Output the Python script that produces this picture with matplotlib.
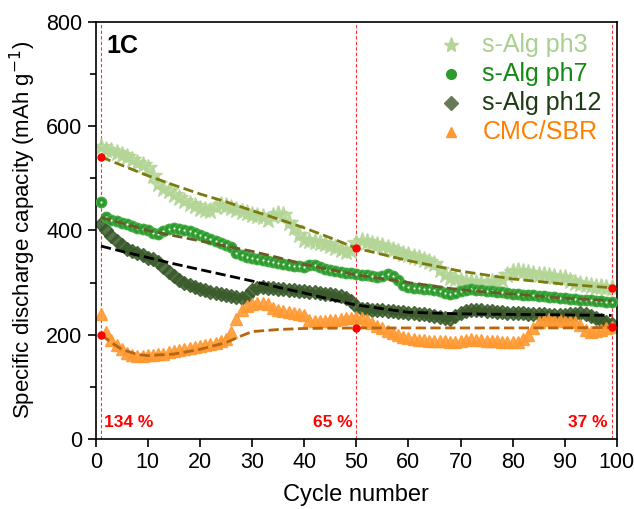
import numpy as np
import matplotlib.pyplot as plt

plt.rcParams['font.family'] = ['Liberation Sans', 'DejaVu Sans']

cycles = np.arange(1, 100)

ph3 = [560, 555, 552, 548, 545, 540, 535, 530, 525, 520,
       505, 490, 480, 475, 468, 462, 456, 450, 446, 442,
       440, 437, 445, 448, 446, 444, 440, 436, 433, 430,
       428, 425, 420, 428, 432, 430, 415, 405, 392, 382,
       380, 378, 376, 374, 370, 366, 362, 358, 360, 376,
       380, 378, 374, 372, 370, 366, 362, 358, 355, 352,
       350, 347, 344, 340, 336, 325, 315, 309, 306, 304,
       302, 301, 300, 300, 300, 302, 300, 305, 315, 321,
       322, 320, 318, 316, 315, 314, 312, 310, 309, 308,
       304, 300, 297, 295, 293, 292, 291, 290, 290]

ph7 = [455, 425, 420, 418, 415, 412, 408, 405, 403, 400,
       396, 394, 398, 402, 404, 402, 400, 398, 395, 392,
       388, 384, 380, 376, 372, 368, 356, 352, 350, 348,
       346, 344, 342, 340, 338, 336, 334, 332, 331, 330,
       333, 334, 330, 326, 324, 322, 320, 319, 318, 316,
       315, 314, 312, 310, 312, 316, 313, 305, 296, 292,
       290, 289, 288, 287, 285, 283, 280, 279, 280, 283,
       286, 287, 286, 285, 284, 283, 282, 281, 280, 279,
       278, 277, 276, 276, 275, 274, 273, 272, 271, 270,
       269, 268, 267, 266, 266, 265, 264, 263, 262]

ph12 = [412, 400, 390, 380, 372, 365, 360, 356, 352, 348,
        345, 340, 330, 320, 312, 305, 300, 296, 292, 288,
        285, 282, 280, 278, 276, 274, 272, 271, 275, 285,
        290, 291, 290, 289, 288, 287, 286, 285, 284, 283,
        282, 281, 280, 279, 278, 276, 274, 270, 265, 255,
        250, 249, 248, 248, 247, 246, 245, 244, 243, 242,
        241, 240, 239, 238, 236, 234, 232, 231, 235, 242,
        246, 248, 248, 247, 246, 245, 244, 243, 242, 242,
        241, 241, 240, 240, 239, 239, 238, 238, 238, 238,
        239, 240, 241, 240, 236, 232, 228, 224, 220]

cmc = [240, 205, 190, 180, 172, 165, 162, 160, 160, 161,
       162, 163, 164, 166, 168, 170, 172, 174, 176, 178,
       180, 182, 185, 188, 192, 205, 230, 248, 255, 258,
       260, 260, 258, 252, 248, 246, 244, 242, 240, 238,
       228, 226, 226, 227, 228, 229, 230, 232, 233, 234,
       232, 228, 222, 216, 212, 208, 204, 200, 196, 194,
       192, 190, 189, 188, 188, 188, 188, 187, 187, 188,
       190, 192, 190, 189, 188, 188, 188, 187, 186, 186,
       187, 192, 200, 212, 225, 229, 230, 229, 228, 227,
       226, 224, 218, 210, 206, 207, 210, 212, 214]

# fitted trend curves
fit_x = [1, 5, 10, 15, 20, 25, 30, 35, 40, 45, 50, 60, 70, 80, 90, 99]
fit_ph3 = [541, 525, 505, 487, 470, 455, 438, 422, 405, 386, 366, 342, 322, 307, 297, 290]
fit_ph7 = [425, 414, 400, 390, 380, 370, 360, 348, 335, 325, 315, 300, 286, 278, 270, 265]
fit_ph12 = [370, 360, 348, 336, 325, 314, 303, 291, 280, 268, 257, 243, 240, 239, 238, 237]
fit_cx = [1, 3, 5, 8, 10, 15, 20, 25, 28, 30, 35, 40, 50, 60, 70, 80, 90, 99]
fit_cmc = [200, 185, 172, 162, 160, 163, 172, 185, 198, 206, 210, 212, 213, 213, 213, 213, 213, 214]

retention = ['134 %', '65 %', '37 %']
mark_cycles = [1, 50, 99]

c3 = '#b3d596'
c7 = '#2e9a2e'
c12 = '#3a5a2b'
cc = '#ff9a33'

fig = plt.figure(figsize=(6.34, 5.09), dpi=100)
ax = fig.add_axes([0.151, 0.1375, 0.822, 0.8195])

for xv in mark_cycles:
    ax.axvline(xv, color='#ff3030', lw=0.8, ls=(0, (3, 2)), zorder=1)

ax.plot(cycles, ph3, ls='none', marker='*', ms=13, color=c3, mec=c3, alpha=0.85, zorder=2)
ax.plot(cycles, ph7, ls='none', marker='o', ms=7.5, color=c7, mec='#45ad45', zorder=3)
ax.plot(cycles, ph7, ls='none', marker='o', ms=1.6, color='#f0fff0', mec='none', zorder=3)
ax.plot(cycles, ph12, ls='none', marker='D', ms=7, color=c12, mec=c12, alpha=0.85, zorder=2)
ax.plot(cycles, cmc, ls='none', marker='^', ms=8, color=cc, mec=cc, alpha=0.9, zorder=2)

ax.plot(fit_x, fit_ph3, ls='--', color='#7a7a10', lw=2, zorder=4)
ax.plot(fit_x, fit_ph7, ls='--', color='#6a5a2a', lw=2, zorder=4)
ax.plot(fit_x, fit_ph12, ls='--', color='black', lw=2, zorder=4)
ax.plot(fit_cx, fit_cmc, ls='--', color='#b8650f', lw=2, zorder=4)

ax.plot([1, 50, 99], [fit_ph3[0], fit_ph3[10], fit_ph3[-1]], 'o', color='red', ms=5, zorder=5)
ax.plot([1, 50, 99], [fit_cmc[0], fit_cmc[12], fit_cmc[-1]], 'o', color='red', ms=5, zorder=5)

ax.text(1.5, 31, retention[0], color='red', fontsize=12.5, fontweight='bold', ha='left', va='center')
ax.text(49.3, 31, retention[1], color='red', fontsize=12.5, fontweight='bold', ha='right', va='center')
ax.text(98.3, 31, retention[2], color='red', fontsize=12.5, fontweight='bold', ha='right', va='center')
ax.text(2, 754, '1C', fontsize=18, fontweight='bold', ha='left', va='center')

# legend with coloured labels
labels = ['s-Alg ph3', 's-Alg ph7', 's-Alg ph12', 'CMC/SBR']
cols = ['#a9d08e', '#138a13', '#1e3a12', '#ff8000']
mk = ['*', 'o', 'D', '^']
ms = [11, 7, 7, 7.5]
for i in range(4):
    y = 756 - i * 56
    ax.plot(68.2, y, marker=mk[i], ms=ms[i], color=[c3, c7, '#667a5a', cc][i], ls='none')
    ax.text(74.2, y, labels[i], color=cols[i], fontsize=18, va='center', ha='left')

ax.set_xlim(0, 100)
ax.set_ylim(0, 800)
ax.set_xticks(np.arange(0, 101, 10))
ax.set_yticks(np.arange(0, 801, 200))
ax.set_yticks(np.arange(100, 800, 200), minor=True)
ax.tick_params(axis='both', which='major', direction='out', length=6, width=1.2, labelsize=15.5)
ax.tick_params(axis='y', which='minor', direction='out', length=4, width=1.2)
for s in ax.spines.values():
    s.set_linewidth(1.2)

ax.set_xlabel('Cycle number', fontsize=17, labelpad=8)
ax.set_ylabel('Specific discharge capacity (mAh g$^{-1}$)', fontsize=16, labelpad=6)

fig.savefig('out.png', dpi=100)
